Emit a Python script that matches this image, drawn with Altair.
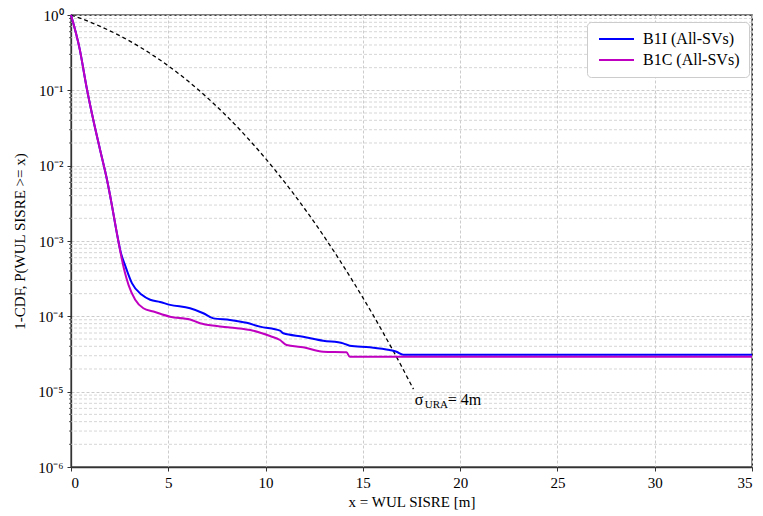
import altair as alt
import pandas as pd

# ---- data ----
b1i_x = [0, 0.45, 0.80, 1.15, 1.50, 1.85, 2.10, 2.35, 2.55, 2.80, 3.13, 3.64, 4.07, 4.58, 5.09,
         6.12, 6.80, 7.32, 8.17, 9.03, 9.71, 10.74, 10.91, 11.93, 12.96, 13.99, 14.33, 15.36, 16.38,
         16.73, 17.07, 35]
b1i_y = [1.0, 0.35, 0.11, 0.04, 0.016, 0.0065, 0.003, 0.0013, 7.2e-4, 4.6e-4, 2.76e-4,
         1.93e-4, 1.66e-4, 1.55e-4, 1.42e-4, 1.28e-4, 1.10e-4, 9.4e-5, 8.95e-5, 8.2e-5, 7.3e-5,
         6.45e-5, 5.96e-5, 5.37e-5, 4.75e-5, 4.38e-5, 4.07e-5, 3.89e-5, 3.57e-5, 3.39e-5, 3.1e-5, 3.1e-5]

b1c_x = [0, 0.45, 0.80, 1.15, 1.50, 1.85, 2.10, 2.35, 2.55, 2.75, 2.96, 3.30, 3.72, 4.24, 5.09,
         6.12, 6.63, 7.49, 8.17, 9.37, 10.23, 10.74, 11.08, 11.93, 12.96, 14.16, 14.33, 35]
b1c_y = [1.0, 0.35, 0.11, 0.04, 0.016, 0.0065, 0.003, 0.0013, 6.9e-4, 4.0e-4, 2.6e-4,
         1.66e-4, 1.28e-4, 1.16e-4, 9.9e-5, 9.1e-5, 8.1e-5, 7.45e-5, 7.1e-5, 6.45e-5, 5.48e-5,
         4.85e-5, 4.17e-5, 3.89e-5, 3.39e-5, 3.33e-5, 2.9e-5, 2.9e-5]

ura_x = [0, 0.5, 1, 1.5, 2, 2.5, 3, 3.5, 4, 4.5, 5, 5.5, 6, 6.5, 7, 7.5, 8, 8.5, 9, 9.5, 10, 10.5,
         11, 11.5, 12, 12.5, 13, 13.5, 14, 14.5, 15, 15.5, 16, 16.5, 17, 17.5, 17.6]
ura_y = [1.0, 0.9005, 0.8026, 0.7077, 0.617, 0.532, 0.4533, 0.3816, 0.3173, 0.2606, 0.2113, 0.1691,
         0.1336, 0.1042, 0.0801, 0.0608, 0.0455, 0.0336, 0.02445, 0.01755, 0.01242, 0.00866,
         0.00596, 0.00404, 0.0027, 0.00178, 0.001154, 0.000738, 0.000465, 0.000289, 0.000177,
         0.000107, 6.33e-5, 3.71e-5, 2.14e-5, 1.21e-5, 1.08e-5]

series_names = ["B1I (All-SVs)", "B1C (All-SVs)"]
series_colors = ["#0000ff", "#c000c0"]
x_ticks = [0, 5, 10, 15, 20, 25, 30, 35]
y_ticks = [1e-6, 1e-5, 1e-4, 1e-3, 1e-2, 1e-1, 1]
y_minor = [m * 10.0 ** e for e in range(-6, 0) for m in range(2, 10)]

FONT = "Liberation Serif"
W, H = 681, 452

df = pd.concat([
    pd.DataFrame({"x": b1i_x, "y": b1i_y, "s": series_names[0], "o": 0}),
    pd.DataFrame({"x": b1c_x, "y": b1c_y, "s": series_names[1], "o": 1}),
])
ura = pd.DataFrame({"x": ura_x, "y": ura_y})
minor = pd.DataFrame({"y": y_minor})

xs = alt.Scale(domain=[0, 35], nice=False, zero=False)
ys = alt.Scale(type="log", domain=[1e-6, 1], nice=False)

lab = ("datum.value >= 0.5 ? '10⁰' : datum.value >= 0.05 ? '10⁻¹' : datum.value >= 0.005 ? '10⁻²' : "
       "datum.value >= 0.0005 ? '10⁻³' : datum.value >= 0.00005 ? '10⁻⁴' : datum.value >= 0.000005 ? '10⁻⁵' : '10⁻⁶'")

grid_minor = alt.Chart(minor).mark_rule(color="#cccccc", strokeDash=[3, 2], strokeWidth=0.8).encode(
    y=alt.Y("y:Q", scale=ys)
)
tick_minor = alt.Chart(minor).mark_rule(color="#333333", strokeWidth=0.8).encode(
    y=alt.Y("y:Q", scale=ys), x=alt.value(-2), x2=alt.value(0)
)

lines = alt.Chart(df).mark_line(strokeWidth=2, interpolate="monotone").encode(
    x=alt.X("x:Q", scale=xs, title="x = WUL SISRE [m]",
            axis=alt.Axis(values=x_ticks, grid=True, gridDash=[3, 2], gridColor="#cccccc")),
    y=alt.Y("y:Q", scale=ys, title="1-CDF, P(WUL SISRE >= x)",
            axis=alt.Axis(values=y_ticks, grid=True, gridDash=[3, 2], gridColor="#cccccc",
                          labelExpr=lab)),
    color=alt.Color("s:N", scale=alt.Scale(domain=series_names, range=series_colors),
                    legend=alt.Legend(title=None, orient="none", legendX=516, legendY=7,
                                      symbolType="M-1,0L6,0", symbolSize=100, symbolStrokeWidth=2,
                                      labelFont=FONT, labelFontSize=16, labelColor="black",
                                      labelOffset=31, rowPadding=5, padding=9,
                                      fillColor="white", strokeColor="#cccccc", cornerRadius=4)),
    order="o:Q",
    detail="s:N",
)

dashed = alt.Chart(ura).mark_line(color="black", strokeDash=[4, 3], strokeWidth=1.3,
                                  interpolate="monotone").encode(
    x=alt.X("x:Q", scale=xs), y=alt.Y("y:Q", scale=ys)
)

ann_pos = pd.DataFrame({"x": [17.67], "y": [7.7e-6]})
sig = alt.Chart(ann_pos).mark_text(text="σ", font=FONT, fontSize=16, align="left",
                                   baseline="middle", color="black").encode(
    x=alt.X("x:Q", scale=xs), y=alt.Y("y:Q", scale=ys))
sub = alt.Chart(ann_pos).mark_text(text="URA", font=FONT, fontSize=11, align="left",
                                   baseline="middle", dx=10, dy=5, color="black").encode(
    x=alt.X("x:Q", scale=xs), y=alt.Y("y:Q", scale=ys))
eq = alt.Chart(ann_pos).mark_text(text="= 4m", font=FONT, fontSize=16, align="left",
                                  baseline="middle", dx=33, color="black").encode(
    x=alt.X("x:Q", scale=xs), y=alt.Y("y:Q", scale=ys))

chart = alt.layer(grid_minor, tick_minor, dashed, lines, sig, sub, eq).properties(
    width=W, height=H,
    background="white",
    autosize=alt.AutoSizeParams(type="none"),
    padding={"left": 71, "top": 15, "right": 11, "bottom": 49},
).configure_view(
    stroke="black", strokeWidth=1.3
).configure_axis(
    labelFont=FONT, titleFont=FONT, labelFontSize=15, titleFontSize=15,
    labelColor="black", titleColor="black", titleFontWeight="normal",
    domainColor="#333333", domainWidth=1.3, tickColor="#333333", tickSize=4,
    labelPadding=4
).configure_axisX(
    titlePadding=4
).configure_axisY(
    titlePadding=10
)

chart.save("out.html", embed_options={"renderer": "svg", "actions": False})
